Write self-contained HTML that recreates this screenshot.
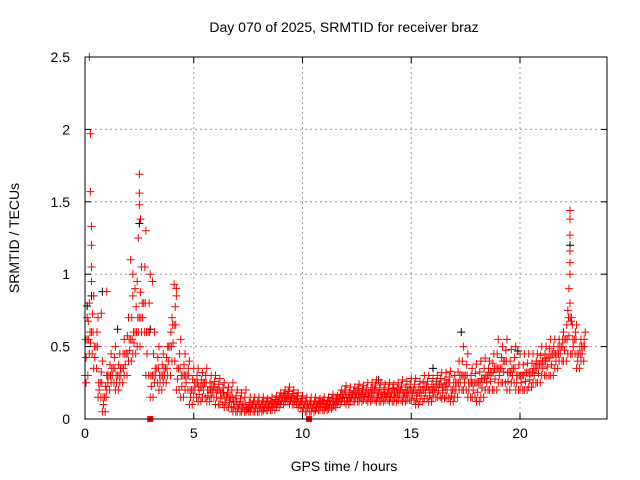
<!DOCTYPE html>
<html><head><meta charset="utf-8"><style>
body{margin:0;background:#fff}
svg{display:block;font-family:"Liberation Sans",sans-serif}
</style></head><body>
<svg id="chart" width="640" height="480" viewBox="0 0 640 480" xmlns="http://www.w3.org/2000/svg">
<rect width="640" height="480" fill="#fff"/>
<text x="344" y="32" font-size="14" text-anchor="middle">Day 070 of 2025, SRMTID for receiver braz</text>
<text x="344" y="471" font-size="14" text-anchor="middle">GPS time / hours</text>
<text transform="translate(19,238) rotate(-90)" font-size="14" text-anchor="middle">SRMTID / TECUs</text>
<g id="grid"></g><g id="marks"></g><g id="axes"></g>
</svg>
<script>
const xTicks=[0,5,10,15,20];
const yTicks=[0,0.5,1,1.5,2,2.5];
const yTickLabels=["0","0.5","1","1.5","2","2.5"];
const tStart=0, tStep=0.2;
const lo=[.3,.45,.35,.15,.05,.2,.25,.2,.25,.3,.4,.45,.5,.6,.3,.15,.25,.2,.25,.3,.4,.2,.15,.2,.1,.15,.12,.15,.12,.15,.1,.1,.08,.08,.05,.05,.05,.05,.05,.05,.05,.06,.06,.06,.08,.1,.12,.1,.1,.08,.05,.05,.05,.06,.06,.06,.07,.08,.1,.12,.1,.12,.12,.12,.13,.12,.13,.12,.12,.13,.12,.12,.13,.12,.13,.13,.1,.12,.14,.12,.15,.15,.14,.15,.12,.15,.2,.2,.15,.15,.12,.15,.2,.2,.2,.25,.25,.2,.25,.2,.2,.2,.22,.25,.25,.3,.3,.3,.35,.4,.4,.45,.45,.35,.4];
const mid=[.55,.6,.5,.25,.15,.3,.35,.3,.35,.45,.55,.6,.7,.8,.6,.3,.35,.3,.35,.5,.65,.35,.3,.3,.2,.25,.22,.25,.2,.22,.2,.18,.15,.15,.12,.1,.1,.08,.1,.1,.1,.1,.1,.11,.12,.15,.16,.15,.14,.12,.1,.1,.1,.1,.11,.1,.12,.12,.14,.17,.15,.17,.18,.17,.18,.18,.2,.18,.17,.18,.18,.18,.2,.18,.2,.2,.18,.2,.22,.2,.22,.24,.22,.25,.2,.25,.3,.3,.25,.25,.25,.28,.3,.32,.35,.35,.4,.32,.35,.3,.3,.32,.32,.35,.38,.4,.42,.45,.45,.5,.55,.7,.55,.45,.5];
const hi=[.8,.85,.7,.4,.3,.45,.5,.45,.55,.7,.85,.95,1.05,1.3,1.0,.6,.5,.45,.5,.7,.9,.55,.45,.4,.35,.35,.32,.35,.3,.3,.28,.25,.22,.25,.2,.18,.2,.15,.15,.15,.15,.14,.15,.16,.18,.2,.22,.2,.18,.16,.15,.15,.15,.14,.15,.15,.17,.16,.2,.23,.22,.22,.24,.23,.25,.25,.27,.25,.24,.25,.24,.25,.27,.26,.28,.28,.26,.3,.3,.28,.3,.32,.32,.33,.3,.4,.5,.45,.35,.38,.4,.42,.4,.45,.55,.5,.55,.48,.5,.45,.45,.45,.45,.45,.5,.5,.55,.55,.55,.6,.75,.65,.65,.55,.6];
const spikeT=[0.2,0.25,0.25,0.3,0.3,0.3,0.3,2.5,2.5,2.5,2.55,2.45,2.1,22.3,22.3,22.3,22.3,22.3,22.3,22.25,22.3,3.1,1.0,0.75,2.2,2.3,4.1,4.2,0.05,0.1];
const spikeV=[2.5,1.97,1.57,1.33,1.2,1.05,0.95,1.69,1.56,1.48,1.38,1.25,1.1,1.44,1.38,1.27,1.16,1.08,1.0,0.9,0.8,0.95,0.88,0.73,1.0,0.9,0.93,0.85,0.25,0.7];
const blackT=[0.3,0.8,2.5,17.3,19.9,22.3,3.0,0.1,1.5,13.5,16.0];
const blackV=[0.85,0.88,1.35,0.6,0.47,1.2,0.62,0.78,0.62,0.27,0.35];
const squareT=[3.0,10.3];
const squareV=[0,0];

const X0=85,X1=607,Y0=419,Y1=57,TMAX=24,VMAX=2.5;
const sx=t=>X0+(X1-X0)*t/TMAX;
const sy=v=>Y0-(Y0-Y1)*v/VMAX;
const NS="http://www.w3.org/2000/svg";
function mk(tag,attrs,parent){const e=document.createElementNS(NS,tag);for(const k in attrs)e.setAttribute(k,attrs[k]);parent.appendChild(e);return e;}
const grid=document.getElementById('grid'),marks=document.getElementById('marks'),axes=document.getElementById('axes');
xTicks.forEach(t=>{
  if(t>0){const g=mk('line',{x1:sx(t),x2:sx(t),y1:Y0,y2:Y1,stroke:'#a0a0a0','stroke-dasharray':'2,3'},grid);
  
  }
  const l=mk('text',{x:sx(t),y:Y0+19,'font-size':14,'text-anchor':'middle'},axes);l.textContent=t;
  
  
  mk('line',{x1:sx(t),x2:sx(t),y1:Y0,y2:Y0-6,stroke:'#000'},axes);
  mk('line',{x1:sx(t),x2:sx(t),y1:Y1,y2:Y1+6,stroke:'#000'},axes);
});
yTicks.forEach((v,i)=>{
  if(v>0&&v<VMAX){const g=mk('line',{x1:X0,x2:X1,y1:sy(v),y2:sy(v),stroke:'#a0a0a0','stroke-dasharray':'2,3'},grid);
  
  }
  const l=mk('text',{x:X0-15,y:sy(v)+5,'font-size':14,'text-anchor':'end'},axes);l.textContent=yTickLabels[i];
  
  
  mk('line',{x1:X0,x2:X0+6,y1:sy(v),y2:sy(v),stroke:'#000'},axes);
  mk('line',{x1:X1,x2:X1-6,y1:sy(v),y2:sy(v),stroke:'#000'},axes);
});
const frame=mk('rect',{x:X0,y:Y1,width:X1-X0,height:Y0-Y1,fill:'none',stroke:'#000'},axes);


let dBlack='',dRed='';
const plus=(t,v)=>{const x=sx(t),y=sy(v);return `M${x-4},${y}h8M${x},${y-4}v8`;};
blackT.forEach((t,i)=>dBlack+=plus(t,blackV[i]));
lo.forEach((v,i)=>{const t=tStart+i*tStep;
  dRed+=plus(t,v)+plus(t+0.05,(v+mid[i])/2)+plus(t+0.1,mid[i])+plus(t+0.15,(mid[i]+hi[i])/2)+plus(t+0.2,hi[i]);
  dRed+=plus(t+0.03,mid[i])+plus(t+0.13,v)+plus(t+0.17,mid[i]);});
spikeT.forEach((t,i)=>dRed+=plus(t,spikeV[i]));
const pb=mk('path',{d:dBlack,stroke:'#000','stroke-width':1,fill:'none'},marks);


const pr=mk('path',{d:dRed,stroke:'#ff0000','stroke-width':1,fill:'none'},marks);


squareT.forEach((t,i)=>{const s=mk('rect',{x:sx(t)-3,y:sy(squareV[i])-3,width:6,height:6,fill:'#ff0000'},marks);
  
  });
</script>
</body></html>
